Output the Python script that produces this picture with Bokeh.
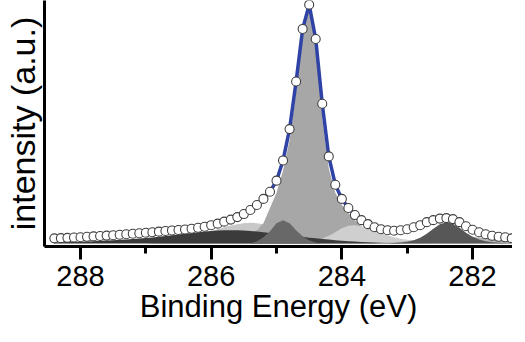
from bokeh.plotting import figure
from bokeh.models import Range1d, FixedTicker
from bokeh.embed import file_html
from bokeh.resources import INLINE

# Binding energy grid (eV)
energy = [288.4, 288.3, 288.2, 288.1, 288.0, 287.9, 287.8, 287.7, 287.6, 287.5,
          287.4, 287.3, 287.2, 287.1, 287.0, 286.9, 286.8, 286.7, 286.6, 286.5,
          286.4, 286.3, 286.2, 286.1, 286.0, 285.9, 285.8, 285.7, 285.6, 285.5,
          285.4, 285.3, 285.2, 285.1, 285.0, 284.9, 284.8, 284.7, 284.6, 284.5,
          284.4, 284.3, 284.2, 284.1, 284.0, 283.9, 283.8, 283.7, 283.6, 283.5,
          283.4, 283.3, 283.2, 283.1, 283.0, 282.9, 282.8, 282.7, 282.6, 282.5,
          282.4, 282.3, 282.2, 282.1, 282.0, 281.9, 281.8, 281.7, 281.6, 281.5,
          281.4]

# measured intensity (a.u.)
intensity = [5.0, 5.2, 5.5, 5.8, 6.1, 6.5, 6.9, 7.3, 7.7, 8.1,
             8.5, 9.0, 9.5, 10.0, 10.5, 11.0, 11.6, 12.2, 12.8, 13.2,
             13.8, 14.5, 15.5, 16.5, 18.0, 19.5, 21.5, 23.5, 26.0, 29.0,
             33.0, 38.0, 44.0, 51.0, 62.0, 82.0, 113.0, 160.0, 212.0, 236.0,
             202.0, 138.0, 86.0, 58.0, 44.0, 35.0, 28.0, 23.0, 19.0, 16.0,
             14.0, 13.0, 12.5, 13.0, 14.0, 16.0, 18.0, 21.0, 23.0, 24.5,
             25.0, 24.0, 21.0, 17.0, 13.5, 11.0, 9.0, 7.5, 6.5, 6.0,
             5.0]

# fitted components
comp_broad_light = [0, 0, 0, 0, 0, 0, 0, 0, 0, 0,
                    0, 0, 0, 0, 0, 1.0, 1.6, 2.2, 2.8, 3.4,
                    4.0, 5.5, 7.5, 9.5, 12.0, 14.0, 16.0, 17.8, 19.0, 20.0,
                    20.5, 20.0, 19.0, 17.3, 15.0, 12.5, 10.0, 7.6, 5.5, 3.8,
                    2.5, 1.5, 0.8, 0.3, 0, 0, 0, 0, 0, 0,
                    0, 0, 0, 0, 0, 0, 0, 0, 0, 0,
                    0, 0, 0, 0, 0, 0, 0, 0, 0, 0,
                    0]

comp_main = [0, 0, 0, 0, 0, 0, 0, 0, 0, 0,
             0, 0, 0, 0, 0, 0.2, 0.4, 0.6, 0.8, 1.0,
             1.3, 1.6, 2.0, 2.5, 3.0, 3.5, 4.2, 5.0, 6.0, 7.5,
             9.5, 13.0, 20.0, 35.0, 50.0, 72.0, 102.0, 150.0, 205.0, 232.0,
             196.0, 125.0, 74.0, 50.0, 38.0, 30.0, 23.0, 17.0, 12.0, 8.5,
             6.0, 4.5, 3.3, 2.5, 1.8, 1.2, 0.8, 0.4, 0, 0,
             0, 0, 0, 0, 0, 0, 0, 0, 0, 0,
             0]

comp_light_low = [0, 0, 0, 0, 0, 0, 0, 0, 0, 0,
                  0, 0, 0, 0, 0, 0, 0, 0, 0, 0,
                  0, 0, 0, 0, 0, 0, 0, 0, 0, 0,
                  0, 0, 0, 0, 0, 0, 0, 0, 0.5, 1.2,
                  2.5, 4.5, 7.5, 11.0, 15.0, 17.5, 18.0, 17.0, 15.0, 12.5,
                  10.0, 7.8, 6.0, 4.6, 3.5, 2.7, 2.0, 1.5, 1.1, 0.8,
                  0.5, 0.3, 0.1, 0, 0, 0, 0, 0, 0, 0,
                  0]

comp_broad_dark = [1.0, 1.1, 1.3, 1.5, 1.7, 1.9, 2.2, 2.5, 2.8, 3.1,
                   3.5, 3.9, 4.3, 4.8, 5.3, 5.9, 6.5, 7.2, 8.0, 8.7,
                   9.5, 10.3, 11.0, 11.7, 12.3, 12.7, 13.0, 13.1, 13.0, 12.7,
                   12.3, 11.7, 11.0, 10.3, 9.5, 8.7, 8.0, 7.2, 6.5, 5.7,
                   5.0, 4.4, 3.8, 3.2, 2.7, 2.2, 1.8, 1.4, 1.1, 0.8,
                   0.6, 0.4, 0.3, 0.1, 0, 0, 0, 0, 0, 0,
                   0, 0, 0, 0, 0, 0, 0, 0, 0, 0,
                   0]

comp_dark_high = [0, 0, 0, 0, 0, 0, 0, 0, 0, 0,
                  0, 0, 0, 0, 0, 0, 0, 0, 0, 0,
                  0, 0, 0, 0, 0, 0, 0, 0, 0, 0,
                  0, 2.0, 6.0, 12.0, 20.0, 23.0, 20.0, 13.0, 7.0, 3.0,
                  1.0, 0, 0, 0, 0, 0, 0, 0, 0, 0,
                  0, 0, 0, 0, 0, 0, 0, 0, 0, 0,
                  0, 0, 0, 0, 0, 0, 0, 0, 0, 0,
                  0]

comp_low_light = [0, 0, 0, 0, 0, 0, 0, 0, 0, 0,
                  0, 0, 0, 0, 0, 0, 0, 0, 0, 0,
                  0, 0, 0, 0, 0, 0, 0, 0, 0, 0,
                  0, 0, 0, 0, 0, 0, 0, 0, 0, 0,
                  0, 0, 0, 0, 0, 0, 0, 0, 0, 0,
                  0.5, 0.8, 1.2, 1.7, 2.3, 3.0, 3.8, 4.7, 5.6, 6.4,
                  7.0, 7.3, 7.3, 7.0, 6.5, 5.8, 5.0, 4.2, 3.4, 2.7,
                  2.0]

comp_low_dark = [0, 0, 0, 0, 0, 0, 0, 0, 0, 0,
                 0, 0, 0, 0, 0, 0, 0, 0, 0, 0,
                 0, 0, 0, 0, 0, 0, 0, 0, 0, 0,
                 0, 0, 0, 0, 0, 0, 0, 0, 0, 0,
                 0, 0, 0, 0, 0, 0, 0, 0, 0, 0,
                 0, 0, 0.3, 0.8, 1.6, 3.0, 5.5, 9.5, 14.5, 19.0,
                 21.0, 19.5, 15.5, 10.5, 6.5, 3.8, 2.2, 1.2, 0.6, 0.3,
                 0.1]

major_ticks = [288, 286, 284, 282]
minor_ticks = [287, 285, 283]
x_title = "Binding Energy (eV)"
y_title = "intensity (a.u.)"

FONT = "Liberation Sans"

p = figure(width=512, height=326, output_backend="svg", toolbar_location=None,
           x_range=Range1d(288.551, 281.388), y_range=Range1d(-3.07, 240.1),
           min_border_left=44, min_border_right=0, min_border_top=0,
           min_border_bottom=80)
p.outline_line_color = None
p.grid.visible = False
p.background_fill_color = "white"

# component fills
p.varea(x=energy, y1=0, y2=comp_broad_light, fill_color="#c8c8c8")
p.varea(x=energy, y1=0, y2=comp_main, fill_color="#a7a7a7")
p.varea(x=energy, y1=0, y2=comp_light_low, fill_color="#cfcfcf")
p.varea(x=energy, y1=0, y2=comp_broad_dark, fill_color="#3b3b3b")
p.varea(x=energy, y1=0, y2=comp_dark_high, fill_color="#686868")
p.varea(x=energy, y1=0, y2=comp_low_light, fill_color="#b5b5b5")
p.varea(x=energy, y1=0, y2=comp_low_dark, fill_color="#575757")

# fit envelope
p.line(x=energy, y=intensity, line_color="#2f42a5", line_width=3.5)
# data points
p.scatter(x=energy, y=intensity, marker="circle", size=9, fill_color="white",
          line_color="#404040", line_width=1.1)

xa = p.xaxis[0]
xa.ticker = FixedTicker(ticks=major_ticks, minor_ticks=minor_ticks)
xa.axis_label = x_title
xa.axis_line_width = 3
xa.major_tick_line_width = 3
xa.minor_tick_line_width = 3
xa.major_tick_out = 13
xa.major_tick_in = 0
xa.minor_tick_out = 7
xa.minor_tick_in = 0
xa.major_label_standoff = 6
xa.axis_label_standoff = 0
xa.major_label_text_font = FONT
xa.major_label_text_font_size = "29px"
xa.major_label_text_color = "black"
xa.axis_label_text_font = FONT
xa.axis_label_text_font_size = "31px"
xa.axis_label_text_font_style = "normal"
xa.axis_label_text_color = "black"

ya = p.yaxis[0]
ya.ticker = FixedTicker(ticks=[])
ya.axis_label = y_title
ya.axis_line_width = 3
ya.major_tick_out = 0
ya.major_tick_in = 0
ya.minor_tick_out = 0
ya.minor_tick_in = 0
ya.axis_label_standoff = 3
ya.axis_label_text_font = FONT
ya.axis_label_text_font_size = "34px"
ya.axis_label_text_font_style = "normal"
ya.axis_label_text_color = "black"

open("out.html", "w").write(file_html(p, INLINE))
